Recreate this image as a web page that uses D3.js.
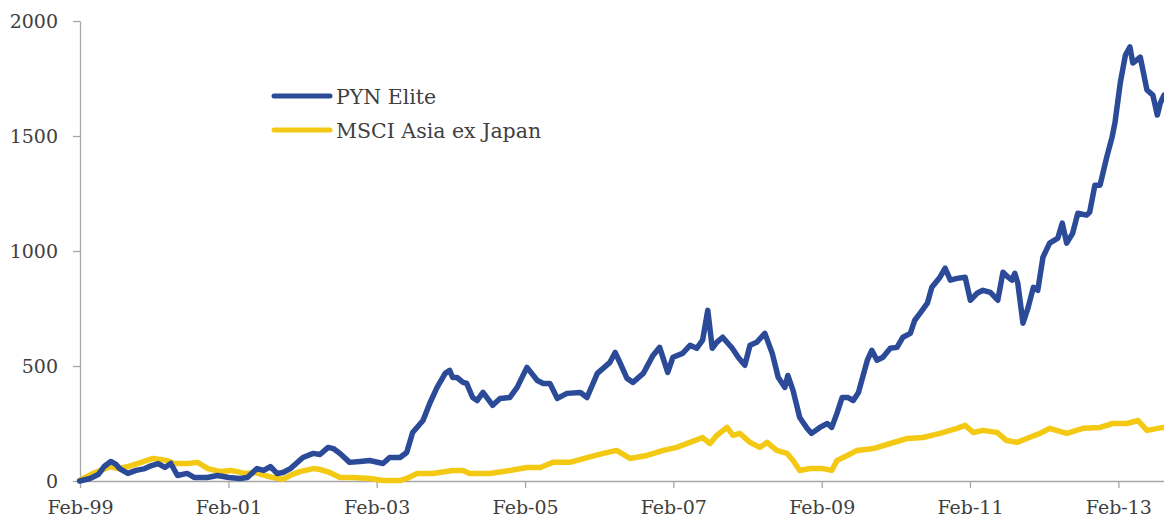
<!DOCTYPE html>
<html>
<head>
<meta charset="utf-8">
<script src="https://cdn.jsdelivr.net/npm/d3@7"></script>
<style>
  body { margin: 0; background: #fff; }
  svg text { font-family: "DejaVu Serif", serif; fill: #404040; }
</style>
</head>
<body>
<svg id="mainsvg" width="1164" height="518"></svg>
<script>
// dates are decimal years
const pynDates = [1999.08,1999.22,1999.33,1999.41,1999.50,1999.57,1999.62,1999.73,1999.84,1999.96,
  2000.05,2000.14,2000.23,2000.31,2000.40,2000.53,2000.63,2000.80,2000.94,2001.09,
  2001.24,2001.34,2001.47,2001.56,2001.65,2001.74,2001.82,2001.92,2002.09,2002.23,
  2002.32,2002.43,2002.50,2002.59,2002.72,2002.86,2002.99,2003.17,2003.26,2003.40,
  2003.49,2003.57,2003.71,2003.80,2003.90,2004.01,2004.07,2004.11,2004.17,2004.25,
  2004.30,2004.38,2004.44,2004.52,2004.65,2004.75,2004.88,2004.98,2005.11,2005.25,
  2005.33,2005.42,2005.52,2005.65,2005.83,2005.92,2006.06,2006.23,2006.30,2006.37,
  2006.46,2006.54,2006.68,2006.81,2006.90,2007.01,2007.08,2007.21,2007.31,2007.40,
  2007.48,2007.55,2007.61,2007.67,2007.75,2007.88,2007.96,2008.05,2008.12,2008.21,
  2008.32,2008.42,2008.50,2008.59,2008.63,2008.70,2008.79,2008.89,2008.95,2009.06,
  2009.16,2009.22,2009.29,2009.36,2009.44,2009.51,2009.58,2009.70,2009.76,2009.83,
  2009.91,2010.01,2010.10,2010.18,2010.28,2010.34,2010.41,2010.51,2010.57,2010.68,
  2010.75,2010.82,2010.91,2011.02,2011.09,2011.18,2011.26,2011.36,2011.46,2011.53,
  2011.60,2011.65,2011.69,2011.73,2011.80,2011.87,2011.94,2012.00,2012.07,2012.16,
  2012.27,2012.33,2012.39,2012.47,2012.54,2012.66,2012.70,2012.77,2012.84,2012.93,
  2013.00,2013.04,2013.11,2013.18,2013.24,2013.28,2013.38,2013.47,2013.55,2013.61,
  2013.65,2013.70];
const pynValues = [0,11,28,63,85,72,54,33,46,54,
  67,76,59,76,24,33,15,15,24,15,
  11,15,54,46,63,33,37,54,102,120,
  115,146,141,120,81,85,89,76,102,102,
  124,211,263,337,407,468,481,450,450,429,
  424,363,350,385,329,359,363,407,494,437,
  424,424,359,381,385,363,468,516,559,511,
  446,429,468,546,581,472,538,555,590,577,
  612,742,577,603,625,577,538,503,590,603,
  642,555,451,407,459,394,276,229,207,233,
  250,233,294,363,363,350,385,525,568,525,
  538,577,581,625,642,699,729,773,842,886,
  925,873,881,886,786,816,829,820,786,908,
  886,873,903,860,686,755,842,829,973,1034,
  1056,1121,1034,1077,1164,1156,1169,1286,1286,1408,
  1495,1560,1730,1852,1887,1817,1843,1700,1678,1591,
  1643,1678];

const msciDates = [1999.08,1999.26,1999.37,1999.49,1999.60,1999.73,1999.91,2000.07,2000.16,2000.26,
  2000.36,2000.54,2000.67,2000.81,2000.98,2001.12,2001.31,2001.44,2001.58,2001.69,
  2001.82,2001.94,2002.05,2002.23,2002.32,2002.45,2002.59,2002.76,2002.99,2003.17,
  2003.40,2003.49,2003.63,2003.84,2004.11,2004.25,2004.34,2004.61,2004.88,2005.11,
  2005.29,2005.46,2005.69,2005.92,2006.14,2006.32,2006.50,2006.73,2006.95,2007.13,
  2007.31,2007.48,2007.58,2007.67,2007.81,2007.89,2007.98,2008.12,2008.25,2008.35,
  2008.48,2008.62,2008.70,2008.79,2008.93,2009.10,2009.22,2009.29,2009.43,2009.56,
  2009.78,2010.01,2010.24,2010.45,2010.68,2010.91,2011.02,2011.13,2011.26,2011.45,
  2011.58,2011.72,2011.85,2012.03,2012.16,2012.39,2012.61,2012.84,2013.01,2013.20,
  2013.35,2013.47,2013.69];
const msciValues = [2,33,46,63,54,63,81,98,94,89,
  76,76,81,54,41,46,33,37,24,15,
  7,28,41,54,50,37,15,15,11,2,
  2,11,33,33,46,46,33,33,46,59,
  59,81,81,102,120,133,98,111,133,146,
  168,189,163,198,233,198,207,168,146,168,
  133,120,89,46,54,54,46,89,111,133,
  141,163,185,189,207,229,242,211,220,211,
  176,168,185,207,229,207,229,233,250,250,
  263,220,233];

const seriesNames = ['PYN Elite', 'MSCI Asia ex Japan'];
const colors = ['#2b4a98', '#f3c913'];
const yTicks = [0, 500, 1000, 1500, 2000];
const xTickYears = [1999, 2001, 2003, 2005, 2007, 2009, 2011, 2013];

const toDate = t => {
  const y = Math.floor(t);
  const start = new Date(y, 0, 1);
  return new Date(start.getTime() + (t - y) * 365.25 * 864e5);
};

const svg = d3.select('#mainsvg');
const margin = { top: 21, right: 0, bottom: 37, left: 80 };
const width = +svg.attr('width');
const height = +svg.attr('height');

const series = [
  pynDates.map((t, i) => ({ date: toDate(t), value: pynValues[i] })),
  msciDates.map((t, i) => ({ date: toDate(t), value: msciValues[i] }))
];

const xScale = d3.scaleTime()
  .domain([new Date(1999, 1, 1), toDate(2013.70)])
  .range([margin.left, width - margin.right]);
const yScale = d3.scaleLinear()
  .domain([0, 2000])
  .range([height - margin.bottom, margin.top]);

const line = d3.line()
  .x(d => xScale(d.date))
  .y(d => yScale(d.value));

// axes
const yAxis = d3.axisLeft(yScale)
  .tickValues(yTicks)
  .tickFormat(d3.format('d'))
  .tickSize(7)
  .tickSizeOuter(0)
  .tickPadding(15);
const yg = svg.append('g')
  .attr('transform', `translate(${margin.left},0)`)
  .call(yAxis);

const xAxis = d3.axisBottom(xScale)
  .tickValues(xTickYears.map(y => new Date(y, 1, 1)))
  .tickFormat(d3.timeFormat('%b-%y'))
  .tickSize(7)
  .tickSizeOuter(0)
  .tickPadding(13);
const xg = svg.append('g')
  .attr('transform', `translate(0,${height - margin.bottom})`)
  .call(xAxis);

[yg, xg].forEach(g => {
  g.selectAll('path, line').attr('stroke', '#a6a6a6').attr('stroke-width', 1.3);
  g.selectAll('text').attr('font-size', 19).attr('font-family', '"DejaVu Serif", serif').attr('fill', '#404040');
});

// series, MSCI first so PYN is on top
[1, 0].forEach(i => {
  svg.append('path')
    .datum(series[i])
    .attr('fill', 'none')
    .attr('stroke', colors[i])
    .attr('stroke-width', 5.5)
    .attr('stroke-linejoin', 'round')
    .attr('stroke-linecap', 'round')
    .attr('d', line);
});

// legend
const legend = svg.append('g').attr('transform', 'translate(274,96)');
seriesNames.forEach((name, i) => {
  const row = legend.append('g').attr('transform', `translate(0,${i * 34})`);
  row.append('line')
    .attr('x1', 0).attr('x2', 56)
    .attr('stroke', colors[i])
    .attr('stroke-width', 5)
    .attr('stroke-linecap', 'round');
  row.append('text')
    .attr('x', 62).attr('y', 8)
    .attr('font-size', 20.5)
    .attr('fill', '#222')
    .text(name);
});
</script>
</body>
</html>
